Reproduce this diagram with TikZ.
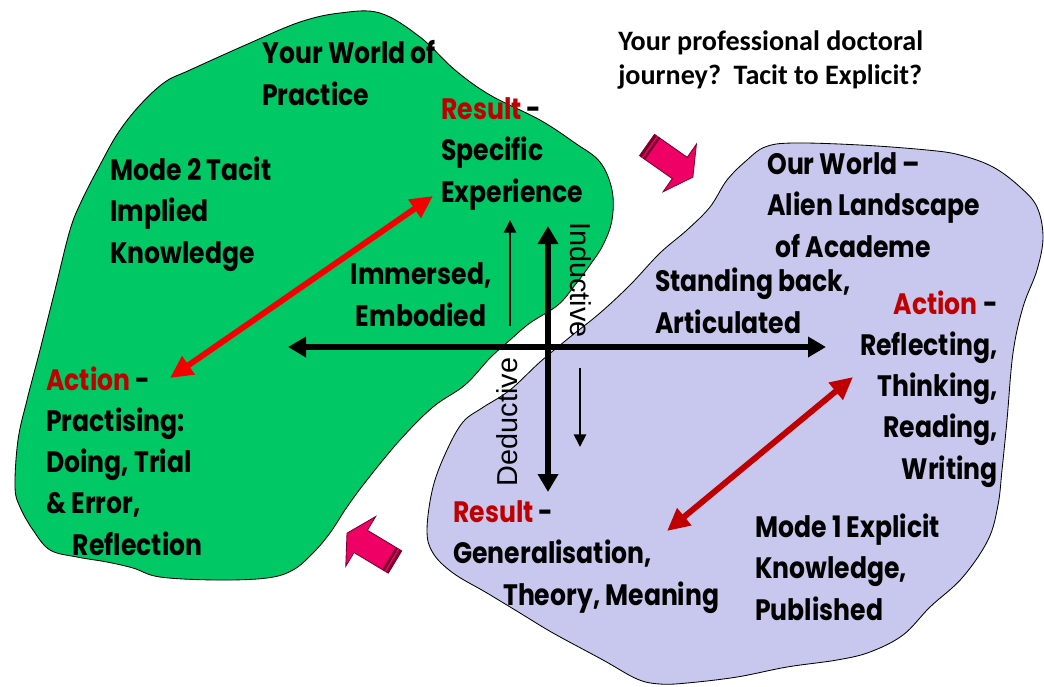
\documentclass[tikz,border=0pt]{standalone}
\usepackage{fontspec}
\usetikzlibrary{arrows.meta}
\newfontfamily\boldcn[FakeStretch=0.85]{Poppins}
\newfontfamily\callig{Carlito}
\newfontfamily\plainsans{Liberation Sans}
\definecolor{practice}{RGB}{0,200,100}
\definecolor{academe}{RGB}{200,200,238}
\definecolor{shiftpink}{RGB}{238,0,100}
\definecolor{darkpink}{RGB}{120,0,45}
\definecolor{resultred}{RGB}{192,0,0}
\definecolor{brightred}{RGB}{245,0,0}
\begin{document}
\begin{tikzpicture}[x=0.025cm, y=-0.025cm,
    txt/.style={font=\boldcn\bfseries\fontsize{21}{29.2}\selectfont, inner sep=0, align=left},
    blob/.style={draw=black, line width=0.6pt},
    bigarrow/.style={line width=3.6pt, {Triangle[length=12.8pt,width=14pt]}-{Triangle[length=12.8pt,width=14pt]}},
    thinarrow/.style={line width=2pt, -{Triangle[length=9pt,width=8.5pt]}},
    redarrow/.style={line width=4.2pt, {Triangle[length=16pt,width=15pt]}-{Triangle[length=16pt,width=15pt]}}]

    \useasboundingbox (0,0) rectangle (1044,686);

    % the two worlds
    \draw[blob, fill=practice] plot[smooth cycle, tension=0.6] coordinates {
        (15,487) (18,440) (27,400) (40,350) (55,290) (70,230) (82,200) (100,165)
        (118,133) (140,105) (165,82) (190,70) (250,43) (300,22) (340,13) (380,13)
        (420,37) (455,70) (490,95) (540,120) (575,143) (600,162) (612,190) (612,220)
        (603,245) (590,265) (575,285) (558,305) (530,323) (510,340) (490,358) (465,385)
        (433,407) (400,440) (367,480) (347,507) (330,533) (313,553) (293,570) (267,578)
        (217,580) (160,577) (133,568) (107,562) (77,557) (50,550) (33,530) (20,507)};

    \draw[blob, fill=academe] plot[smooth cycle, tension=0.6] coordinates {
        (727,180) (747,160) (765,147) (793,143) (860,145) (927,150) (960,155) (993,167)
        (1020,187) (1037,207) (1043,237) (1037,270) (1023,307) (1013,353) (1007,420)
        (1002,470) (998,505) (988,540) (962,578) (930,607) (903,635) (870,652) (837,660)
        (787,667) (737,677) (687,683) (660,684) (637,679) (603,660) (553,633) (520,613)
        (487,593) (453,573) (433,553) (427,530) (433,487) (447,450) (463,422) (482,408)
        (510,390) (540,362) (570,337) (600,313) (630,285) (660,253) (687,230) (710,207)};

    % shift arrows
    \begin{scope}[shift={(647,145)}, rotate=-35]
        \draw[fill=shiftpink, draw=darkpink, line width=0.6pt]
            (0,-13) -- (40,-13) -- (40,-29) -- (56,0) -- (40,29) -- (40,13) -- (0,13) -- cycle;
        \fill[darkpink] (0,-13) rectangle (7,13);
        \draw[shiftpink, line width=1pt] (3.5,-13) -- (3.5,13);
    \end{scope}
    \begin{scope}[shift={(395,562)}, rotate=149]
        \draw[fill=shiftpink, draw=darkpink, line width=0.6pt]
            (0,-13) -- (40,-13) -- (40,-29) -- (56,0) -- (40,29) -- (40,13) -- (0,13) -- cycle;
        \fill[darkpink] (0,-13) rectangle (7,13);
        \draw[shiftpink, line width=1pt] (3.5,-13) -- (3.5,13);
    \end{scope}

    \coordinate (hleft) at (288,347);
    \coordinate (hright) at (826,347);
    \coordinate (vtop) at (548,226);
    \coordinate (vbottom) at (548,492);
    \coordinate (uplow) at (510,326);
    \coordinate (uphigh) at (510,220);
    \coordinate (downhigh) at (580,368);
    \coordinate (downlow) at (580,447);
    \coordinate (redlow) at (170,378);
    \coordinate (redhigh) at (433,196);
    \coordinate (darklow) at (667,531);
    \coordinate (darkhigh) at (853,377);

    % texts, placed by the baseline of their last line
    \node[txt, anchor=base west] (yourworld) at (262,105) {Your World of\\Practice};
    \node[txt, anchor=base west] (result1) at (441,202) {\textcolor{resultred}{Result} -\\Specific\\Experience};
    \node[txt, anchor=base west] (mode2) at (110,263) {Mode 2 Tacit\\Implied\\Knowledge};
    \node[txt, anchor=base, align=center] (immersed) at (421,326) {Immersed,\\Embodied};
    \node[txt, anchor=base west] (standing) at (655,333) {Standing back,\\Articulated};
    \node[txt, anchor=base west] (ourworld) at (767,257) {Our World –\\Alien Landscape\\\hspace{5.7pt}of Academe};
    \node[txt, anchor=base east, align=right] (action2) at (998,479) {\textcolor{resultred}{Action} -\\Reflecting,\\Thinking,\\Reading,\\Writing};
    \node[txt, anchor=base west] (action1) at (46,555) {\textcolor{resultred}{Action} -\\Practising:\\Doing, Trial\\\& Error,\\\hspace{19pt}Reflection};
    \node[txt, anchor=base west] (result2) at (453,605) {\textcolor{resultred}{Result} -\\Generalisation,\\\hspace{35.5pt}Theory, Meaning};
    \node[txt, anchor=base west] (mode1) at (755,620) {Mode 1 Explicit\\Knowledge,\\Published};
    \node[anchor=base west, inner sep=0, align=left, font=\callig\bfseries\fontsize{20}{24}\selectfont] (journey) at (618,84) {Your professional doctoral\\journey?~~Tacit to Explicit?};

    \node[inner sep=0, rotate=-90, font=\plainsans\fontsize{20.5}{24}\selectfont] (inductive) at (581,280) {Inductive};
    \node[inner sep=0, rotate=90, font=\plainsans\fontsize{20.5}{24}\selectfont] (deductive) at (507,422) {Deductive};

    \draw[bigarrow] (hleft) -- (hright);
    \draw[bigarrow] (vtop) -- (vbottom);
    \draw[thinarrow] (uplow) -- (uphigh);
    \draw[thinarrow] (downhigh) -- (downlow);
    \draw[redarrow, brightred] (redlow) -- (redhigh);
    \draw[redarrow, resultred] (darklow) -- (darkhigh);

\end{tikzpicture}
\end{document}
